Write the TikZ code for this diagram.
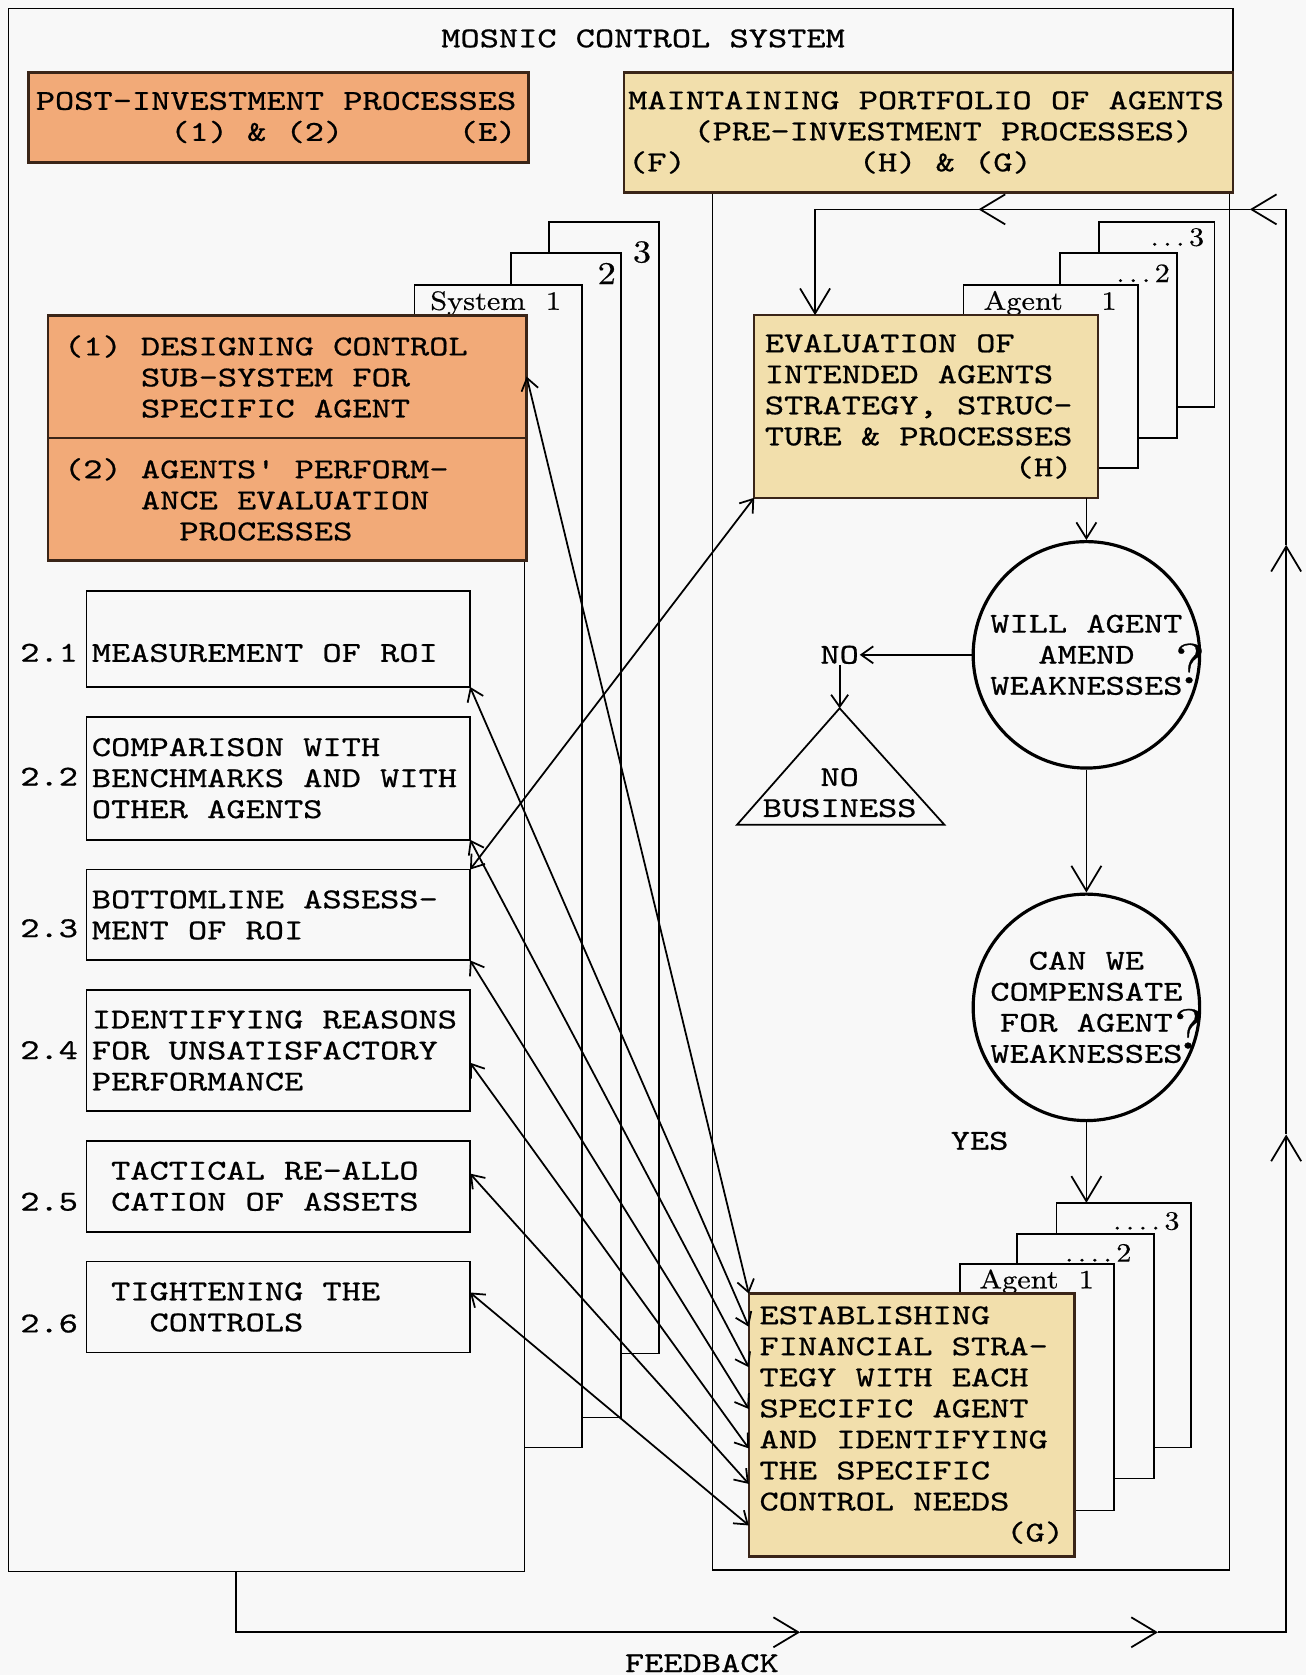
\documentclass[tikz,border=0pt]{standalone}
\usepackage{fontspec}
\newfontfamily\tw{lmmono10-regular.otf}[FakeStretch=1.27,FakeBold=0.7,Ligatures=TeXOff]
\newfontfamily\tagfont{lmroman10-regular.otf}[FakeStretch=1.15,FakeBold=0.5]
\usetikzlibrary{positioning,calc,arrows.meta}
\newlength\px
\setlength\px{0.1068mm}
\newlength\cwid
\setlength\cwid{5.4674pt}
\newcommand\ind[1]{\hspace*{#1\cwid}}
\newcommand\typewriter{\tw\fontsize{8.2pt}{8.83pt}\selectfont
  \fontdimen2\font=\cwid\fontdimen3\font=0pt\fontdimen4\font=0pt}
\definecolor{paper}{RGB}{248,248,248}
\definecolor{peach}{HTML}{F2AA78}
\definecolor{straw}{HTML}{F2DFAC}
\definecolor{ink}{HTML}{3A2518}
\tikzset{
  >={Straight Barb[length=1.2mm,width=1.7mm]},
  bigtip/.style={-{Straight Barb[length=2.5mm,width=3mm]}},
  midtip/.style={-{Straight Barb[length=1.6mm,width=2mm]}},
  txt/.style={font=\typewriter, inner sep=0pt,
    execute at begin node={\spaceskip=\cwid\xspaceskip=\cwid}},
  tag/.style={font=\tagfont\fontsize{7.5pt}{9pt}\selectfont, inner sep=0pt},
  page/.style={draw, fill=paper, inner sep=0pt, outer sep=0pt, anchor=north west},
  box/.style={txt, draw, fill=paper, align=left, outer sep=0pt, anchor=north west},
  hot/.style={box, fill=peach, draw=ink, line width=0.8pt},
  pale/.style={box, fill=straw, draw=ink, line width=0.7pt},
  ask/.style={txt, circle, draw, line width=0.9pt, minimum size=212\px, align=center},
  qmark/.style={font=\tagfont\fontsize{16pt}{16pt}\selectfont, inner sep=0pt},
}
\begin{document}
\begin{tikzpicture}[x=0.1068mm, y=-0.1068mm, node distance=28\px, line width=0.5pt]
  \fill[paper] (0,0) rectangle (1223,1568);
  \useasboundingbox (0,0) rectangle (1223,1568);

  % system sheets behind the left column
  \node[page, minimum width=103\px, minimum height=1059\px] (sp3) at (514,208) {};
  \node[page, minimum width=103\px, minimum height=1090\px] (sp2) at (478,237) {};
  \node[page, minimum width=157\px, minimum height=1088\px] (sp1) at (388,267) {};
  \node[tag, font=\tagfont\fontsize{9pt}{9pt}\selectfont] (s3) at (601,236) {3};
  \node[tag, font=\tagfont\fontsize{9pt}{9pt}\selectfont] (s2) at (568,256) {2};
  \node[tag, anchor=base west] (s1) at (402,290) {System~~1};

  % outer frame and left column
  \fill[paper] (9,525) rectangle (491,1470);
  \draw (491,525) -- (491,1471) -- (8,1471) -- (8,8) -- (1154,8) -- (1154,68);
  \draw (667,180) rectangle (1151,1470);
  \node[txt] (title) at (602,36) {MOSNIC CONTROL SYSTEM};

  \node[hot, minimum width=468\px, minimum height=84\px, text width=455\px] (post) at (27,68)
    {POST-INVESTMENT PROCESSES\\\ind{7}(1) \& (2)\ind{6}(E)};
  \node[pale, minimum width=570\px, minimum height=112\px, text width=562\px] (port) at (584,68)
    {MAINTAINING PORTFOLIO OF AGENTS\\\ind{3.4}(PRE-INVESTMENT PROCESSES)\\(F)\ind{9}(H) \& (G)};

  \node[hot, minimum width=448\px, minimum height=115\px, text width=418\px] (d1) at (45,295)
    {(1) DESIGNING CONTROL\\\ind{4}SUB-SYSTEM FOR\\\ind{4}SPECIFIC AGENT};
  \node[hot, minimum width=448\px, minimum height=115\px, text width=418\px, below=0pt of d1] (d2)
    {(2) AGENTS' PERFORM-\\\ind{4}ANCE EVALUATION\\\ind{6}PROCESSES};

  % performance evaluation steps
  \node[box, minimum width=359\px, minimum height=90\px, text width=349\px,
    text height=13.1pt, text depth=0pt] (r21) at (81,553) {MEASUREMENT OF ROI};
  \node[box, minimum width=359\px, minimum height=115\px, text width=349\px, below=of r21] (r22)
    {COMPARISON WITH\\BENCHMARKS AND WITH\\OTHER AGENTS};
  \node[box, minimum width=359\px, minimum height=85\px, text width=349\px, below=of r22] (r23)
    {BOTTOMLINE ASSESS-\\MENT OF ROI};
  \node[box, minimum width=359\px, minimum height=113\px, text width=349\px, below=of r23] (r24)
    {IDENTIFYING REASONS\\FOR UNSATISFACTORY\\PERFORMANCE};
  \node[box, minimum width=359\px, minimum height=85\px, text width=349\px, below=of r24] (r25)
    {\ind{1}TACTICAL RE-ALLO\\\ind{1}CATION OF ASSETS};
  \node[box, minimum width=359\px, minimum height=85\px, text width=349\px, below=of r25] (r26)
    {\ind{1}TIGHTENING THE\\\ind{3}CONTROLS};
  \node[txt] (n21) at (46,611) {2.1};
  \node[txt] (n22) at (46,727) {2.2};
  \node[txt] (n23) at (46,869) {2.3};
  \node[txt] (n24) at (46,983) {2.4};
  \node[txt] (n25) at (46,1125) {2.5};
  \node[txt] (n26) at (46,1239) {2.6};

  % agent sheets, upper stack
  \node[page, minimum width=108\px, minimum height=173\px] (ap3) at (1029,208) {};
  \node[page, minimum width=110\px, minimum height=173\px] (ap2) at (992,237) {};
  \node[page, minimum width=163\px, minimum height=171\px] (ap1) at (902,267) {};
  \node[tag, anchor=base east] (a3) at (1128,230) {.\,.\,.\,3};
  \node[tag, anchor=base east] (a2) at (1096,264) {.\,.\,.\,2};
  \node[tag, anchor=base west] (a1) at (920,290) {Agent\hspace{11pt}1};
  \node[pale, minimum width=322\px, minimum height=171\px, text width=302\px] (eval) at (706,295)
    {EVALUATION OF\\INTENDED AGENTS\\STRATEGY, STRUC-\\TURE \& PROCESSES\\\ind{13}(H)};

  % decisions
  \node[ask] (will) at (1017,613) {WILL AGENT\\AMEND\\WEAKNESSES};
  \node[qmark] (q1) at (1114,621) {?};
  \node[ask] (comp) at (1017,943) {CAN WE\\COMPENSATE\\FOR AGENT\ind{1}\\WEAKNESSES};
  \node[qmark] (q2) at (1113,963) {?};
  \node[txt] (no) at (786,613) {NO};
  \coordinate (apex) at (786,663);
  \draw (apex) -- (884,772) -- (690,772) -- cycle;
  \node[txt, align=center] (nobiz) at (786,742) {NO\\BUSINESS};
  \node[txt] (yes) at (917,1068) {YES};

  % agent sheets, lower stack
  \node[page, minimum width=126\px, minimum height=229\px] (gp3) at (989,1126) {};
  \node[page, minimum width=128\px, minimum height=229\px] (gp2) at (952,1155) {};
  \node[page, minimum width=144\px, minimum height=231\px] (gp1) at (899,1183) {};
  \node[tag, anchor=base east] (g3) at (1105,1151) {.\,.\,.\,.\,3};
  \node[tag, anchor=base east] (g2) at (1060,1181) {.\,.\,.\,.\,2};
  \node[tag, anchor=base west] (g1) at (916,1206) {Agent~~1};
  \node[pale, minimum width=305\px, minimum height=246\px, text width=285\px] (est) at (701,1211)
    {ESTABLISHING\\FINANCIAL STRA-\\TEGY WITH EACH\\SPECIFIC AGENT\\AND IDENTIFYING\\THE SPECIFIC\\CONTROL NEEDS\\\mbox{}\hfill(G)};

  % flow on the right
  \draw[midtip] (eval.south -| will.north) -- (will.north);
  \draw[bigtip] (will.south) -- (comp.north);
  \draw[bigtip] (comp.south) -- (comp.south |- gp3.north);
  \draw[->] (will.west) -- (no.east);
  \draw[->] (no.south) -- (apex);

  % feedback loop
  \node[txt] (fbk) at (657,1557) {FEEDBACK};
  \coordinate (f0) at (221,1471);
  \coordinate (f1) at (221,1528);
  \coordinate (f2) at (749,1528);
  \coordinate (f3) at (1084,1528);
  \coordinate (f4) at (1204,1528);
  \coordinate (f5) at (1204,1062);
  \coordinate (f6) at (1204,510);
  \coordinate (f7) at (1204,196);
  \coordinate (f8) at (1170,196);
  \coordinate (f9) at (916,196);
  \coordinate (f10) at (763,196);
  \draw[bigtip] (f0) -- (f1) -- (f2);
  \draw[bigtip] (f2) -- (f3);
  \draw[bigtip] (f3) -- (f4) -- (f5);
  \draw[bigtip] (f5) -- (f6);
  \draw[bigtip] (f6) -- (f7) -- (f8);
  \draw[bigtip] (f8) -- (f9);
  \draw[bigtip] (f9) -- (f10) -- (f10 |- eval.north);

  % links between the two columns
  \draw[<->] (d1.east) -- (est.north west);
  \draw[<->] (r23.north east) -- (eval.south west);
  \draw[<->] (r21.south east) -- ($(est.north west)!0.126!(est.south west)$);
  \draw[<->] (r22.south east) -- ($(est.north west)!0.28!(est.south west)$);
  \draw[<->] (r23.south east) -- ($(est.north west)!0.439!(est.south west)$);
  \draw[<->] ($(r24.north east)!0.6!(r24.south east)$) -- ($(est.north west)!0.589!(est.south west)$);
  \draw[<->] ($(r25.north east)!0.36!(r25.south east)$) -- ($(est.north west)!0.724!(est.south west)$);
  \draw[<->] ($(r26.north east)!0.34!(r26.south east)$) -- ($(est.north west)!0.882!(est.south west)$);
\end{tikzpicture}
\end{document}
